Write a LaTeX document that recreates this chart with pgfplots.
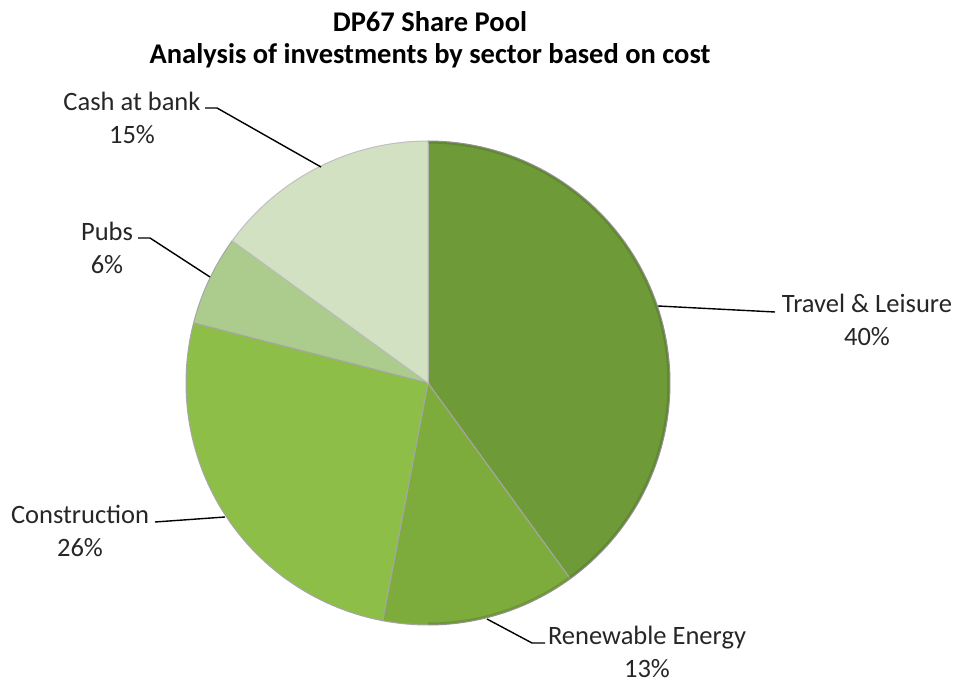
\documentclass[border=0pt]{standalone}
\usepackage{pgfplots}
\pgfplotsset{compat=1.18}
\usepackage{fontspec}
\setmainfont{Carlito}
\definecolor{cT}{RGB}{111,154,56}
\definecolor{cR}{RGB}{125,172,60}
\definecolor{cC}{RGB}{141,190,72}
\definecolor{cP}{RGB}{172,204,142}
\definecolor{cB}{RGB}{210,225,194}
\tikzset{lbl/.style={align=center,font=\fontsize{13.25}{16.5}\selectfont,text=black!85}}
\begin{document}
\begin{tikzpicture}
% shares in percent
\def\pT{40}\def\pR{13}\def\pC{26}\def\pP{6}\def\pB{15}
\pgfmathsetmacro{\aO}{90}
\pgfmathsetmacro{\aT}{\aO-3.6*\pT}
\pgfmathsetmacro{\aR}{\aT-3.6*\pR}
\pgfmathsetmacro{\aC}{\aR-3.6*\pC}
\pgfmathsetmacro{\aP}{\aC-3.6*\pP}
\pgfmathsetmacro{\aB}{\aP-3.6*\pB}
\def\cx{428}\def\cy{301}\def\R{242}
\begin{axis}[width=480pt,height=342pt,scale only axis,
  xmin=0,xmax=960,ymin=0,ymax=684,hide axis,clip=false]
\addplot[draw=none,forget plot] coordinates {(0,0) (960,684)};
\addplot[fill=cT,draw=black!35,line width=0.5pt,domain=\aT:\aO,samples=90] ({\cx+\R*cos(x)},{\cy+\R*sin(x)}) -- (axis cs:\cx,\cy) -- cycle;
\addplot[fill=cR,draw=black!35,line width=0.5pt,domain=\aR:\aT,samples=40] ({\cx+\R*cos(x)},{\cy+\R*sin(x)}) -- (axis cs:\cx,\cy) -- cycle;
\addplot[fill=cC,draw=black!35,line width=0.5pt,domain=\aC:\aR,samples=60] ({\cx+\R*cos(x)},{\cy+\R*sin(x)}) -- (axis cs:\cx,\cy) -- cycle;
\addplot[fill=cP,draw=black!35,line width=0.5pt,domain=\aP:\aC,samples=20] ({\cx+\R*cos(x)},{\cy+\R*sin(x)}) -- (axis cs:\cx,\cy) -- cycle;
\addplot[fill=cB,draw=black!25,line width=0.5pt,domain=\aB:\aP,samples=40] ({\cx+\R*cos(x)},{\cy+\R*sin(x)}) -- (axis cs:\cx,\cy) -- cycle;
% rim
\addplot[draw=black,opacity=0.12,line width=1.5pt,domain=-90:90,samples=120] ({\cx+(\R-1)*cos(x)},{\cy+(\R-1)*sin(x)});
% leader lines
\addplot[black,line width=0.7pt] coordinates {(205,576) (217,576) (321,517)};
\addplot[black,line width=0.7pt] coordinates {(138,446) (150,446) (210,407)};
\addplot[black,line width=0.7pt] coordinates {(155,162) (225,167)};
\addplot[black,line width=0.7pt] coordinates {(658,378) (775,372)};
\addplot[black,line width=0.7pt] coordinates {(487,65) (532,41) (545,41)};
% labels
\node[lbl] at (axis cs:132,566) {Cash at bank\\15\%};
\node[lbl] at (axis cs:107,436) {Pubs\\6\%};
\node[lbl] at (axis cs:80,153) {Construction\\26\%};
\node[lbl] at (axis cs:867,364) {Travel \& Leisure\\40\%};
\node[lbl] at (axis cs:647,32) {Renewable Energy\\13\%};
\node[lbl,text=black,font=\bfseries\fontsize{14.25}{16}\selectfont] at (axis cs:430,644) {DP67 Share Pool\\Analysis of investments by sector based on cost};
\end{axis}
\end{tikzpicture}
\end{document}
